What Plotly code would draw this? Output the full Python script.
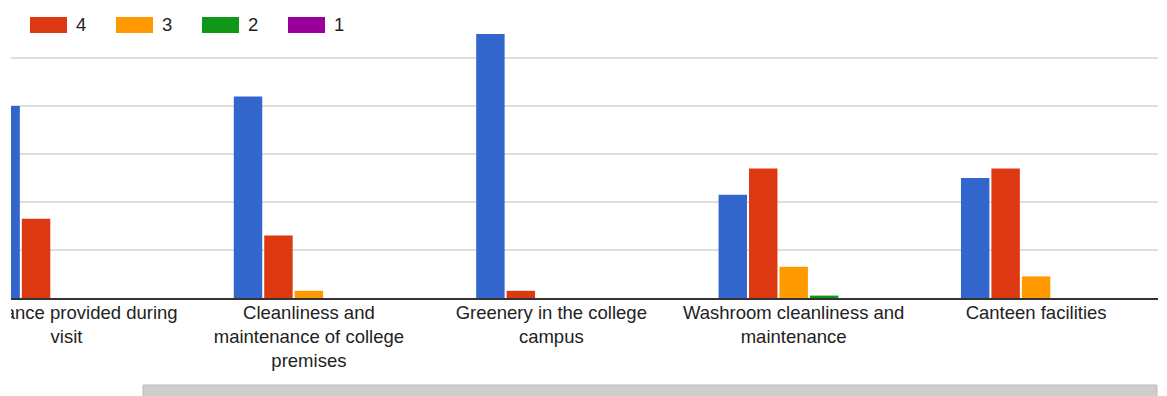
import plotly.graph_objects as go

# ---- data ----
categories = [
    "Assistance provided during<br>visit",
    "Cleanliness and<br>maintenance of college<br>premises",
    "Greenery in the college<br>campus",
    "Washroom cleanliness and<br>maintenance",
    "Canteen facilities",
]
series_names = ["5", "4", "3", "2", "1"]
rating_5 = [80, 84, 110, 43, 50]
rating_4 = [33, 26, 3, 54, 54]
rating_3 = [0, 3, 0, 13, 9]
rating_2 = [0, 0, 0, 1, 0]
rating_1 = [0, 0, 0, 0, 0]
series_values = [rating_5, rating_4, rating_3, rating_2, rating_1]
colors = ["#3366cc", "#dc3912", "#ff9900", "#109618", "#990099"]

# ---- geometry (page pixels; the page body adds an 8px offset) ----
OFF = 8
PAGE_W, PAGE_H = 1167, 396
W, H = PAGE_W - OFF, PAGE_H - OFF
PLOT_L, PLOT_R = 11, 1158          # page x of plot area
PLOT_T, PLOT_B = 9, 298            # page y of plot area
L = PLOT_L - OFF
T = PLOT_T - OFF
PW = PLOT_R - PLOT_L
PH = PLOT_B - PLOT_T
R = W - L - PW
B = H - T - PH
Y_TOP = 120 * PH / (PLOT_B - 10)   # gridline 120 sits at page y=10

def px_x(p):
    return (p - PLOT_L) / PW

def px_y(p):
    return (PLOT_B - p) / PH

FONT = "Liberation Sans, Arial, sans-serif"

fig = go.Figure()
for name, vals, col in zip(series_names, series_values, colors):
    fig.add_trace(go.Bar(
        x=list(range(len(categories))), y=vals, name=name,
        marker=dict(color=col, line=dict(width=0)),
        showlegend=False,
    ))

shapes = []
annotations = []
# legend (the "5" entry sits off-screen to the left in the scrolled view)
for i, (name, col) in enumerate(zip(series_names, colors)):
    if i == 0:
        continue
    x0 = 30 + (i - 1) * 86
    shapes.append(dict(type="rect", xref="paper", yref="paper",
                       x0=px_x(x0), x1=px_x(x0 + 37), y0=px_y(33), y1=px_y(17),
                       fillcolor=col, line=dict(width=0), layer="above"))
    annotations.append(dict(xref="paper", yref="paper", x=px_x(x0 + 44), y=px_y(25),
                            text=name, showarrow=False, xanchor="left", yanchor="middle",
                            font=dict(family=FONT, size=18.5, color="#222222")))

# white strip at the very left (viewport edge of the scrolled chart)
shapes.append(dict(type="rect", xref="paper", yref="paper",
                   x0=px_x(0), x1=px_x(PLOT_L), y0=px_y(PAGE_H + 2), y1=px_y(-2),
                   fillcolor="white", line=dict(width=0), layer="above"))
# horizontal scrollbar
shapes.append(dict(type="rect", xref="paper", yref="paper",
                   x0=px_x(143), x1=px_x(1157), y0=px_y(397), y1=px_y(385),
                   fillcolor="#cdcdcd", line=dict(color="#bdbdbd", width=1), layer="above"))

fig.update_layout(
    width=W, height=H,
    margin=dict(l=L, r=R, t=T, b=B, pad=0, autoexpand=False),
    paper_bgcolor="white", plot_bgcolor="white",
    barmode="group", bargap=0.372, bargroupgap=0.066,
    showlegend=False,
    shapes=shapes, annotations=annotations,
    font=dict(family=FONT, size=18.5, color="#222222"),
)
fig.update_xaxes(
    tickmode="array", tickvals=list(range(len(categories))), ticktext=categories,
    range=[-0.229, 4.503], showgrid=False, zeroline=False,
    showline=True, linecolor="#333333", linewidth=1.5,
    ticks="", tickfont=dict(family=FONT, size=18.5, color="#222222"),
    ticklabeloverflow="allow", ticklabelstandoff=-3, automargin=False,
    fixedrange=True,
)
fig.update_yaxes(
    range=[0, Y_TOP], tickmode="array", tickvals=[20, 40, 60, 80, 100, 120],
    showticklabels=False, showgrid=True, automargin=False,
    gridcolor="#dedede", gridwidth=1.5, zeroline=False, showline=False,
    fixedrange=True,
)

fig.write_html("out.html", config={"displayModeBar": False})
